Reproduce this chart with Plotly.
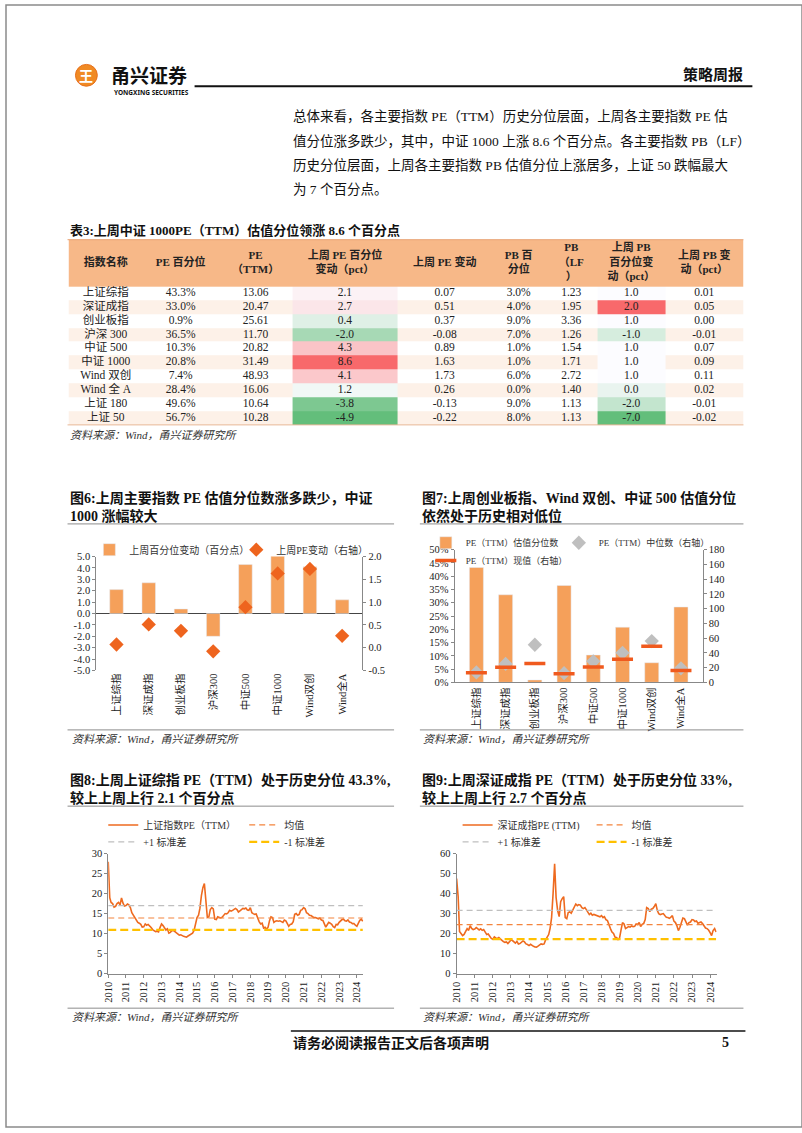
import plotly.graph_objects as go
import pandas as pd

W, H = 802, 1133
def px(x): return x / W
def py(y): return 1 - y / H

SERIF = "Liberation Serif, Noto Sans CJK SC, serif"

# ---------------- data ----------------
CATS = ["上证综指", "深证成指", "创业板指", "沪深300", "中证500", "中证1000", "Wind双创", "Wind全A"]
PCT_CHG = [2.1, 2.7, 0.4, -2.0, 4.3, 8.6, 4.1, 1.2]
PE_CHG = [0.07, 0.51, 0.37, -0.08, 0.89, 1.63, 1.73, 0.26]
PE_PCT = [43.3, 33.0, 0.9, 36.5, 10.3, 20.8, 7.4, 28.4]
PE_MEDIAN = [13.5, 25.0, 51.0, 12.5, 28.5, 40.0, 56.0, 19.0]
PE_NOW = [13.06, 20.47, 25.61, 11.70, 20.82, 31.49, 48.93, 16.06]

T_HEADERS = ["指数名称", "PE 百分位", "PE<br>（TTM）", "上周 PE 百分位<br>变动（pct）", "上周 PE 变动",
             "PB 百<br>分位", "PB<br>（LF<br>）", "上周 PB<br>百分位变<br>动（pct）", "上周 PB 变<br>动（pct）"]
T_NAMES = ["上证综指", "深证成指", "创业板指", "沪深 300", "中证 500", "中证 1000", "Wind 双创", "Wind 全 A", "上证 180", "上证 50"]
T_PE_PCT = [43.3, 33.0, 0.9, 36.5, 10.3, 20.8, 7.4, 28.4, 49.6, 56.7]
T_PE = [13.06, 20.47, 25.61, 11.70, 20.82, 31.49, 48.93, 16.06, 10.64, 10.28]
T_PE_PCT_CHG = [2.1, 2.7, 0.4, -2.0, 4.3, 8.6, 4.1, 1.2, -3.8, -4.9]
T_PE_CHG = [0.07, 0.51, 0.37, -0.08, 0.89, 1.63, 1.73, 0.26, -0.13, -0.22]
T_PB_PCT = [3.0, 4.0, 9.0, 7.0, 1.0, 1.0, 6.0, 0.0, 9.0, 8.0]
T_PB = [1.23, 1.95, 3.36, 1.26, 1.54, 1.71, 2.72, 1.40, 1.13, 1.13]
T_PB_PCT_CHG = [1.0, 2.0, 1.0, -1.0, 1.0, 1.0, 1.0, 0.0, -2.0, -7.0]
T_PB_CHG = [0.01, 0.05, 0.00, -0.01, 0.07, 0.09, 0.11, 0.02, -0.01, -0.02]

# monthly PE(TTM), Jan 2010 .. May 2024
SH_PE = [
    28.0, 19.0, 17.8, 17.5, 16.6, 16.8, 17.5, 17.8, 17.2, 18.9, 17.6, 16.9,
    17.0, 17.4, 17.2, 16.5, 15.2, 14.6, 14.2, 13.6, 12.8, 12.6, 12.3, 11.6,
    11.7, 12.4, 12.1, 12.3, 12.0, 11.5, 11.0, 10.7, 10.5, 10.6, 10.4, 11.5,
    12.4, 12.0, 11.3, 10.9, 11.2, 10.1, 10.3, 10.7, 10.8, 10.5, 10.4, 9.9,
    9.6, 9.7, 9.4, 9.3, 9.2, 9.1, 9.4, 9.7, 10.0, 10.1, 10.8, 12.6,
    14.0, 14.6, 16.3, 19.5, 21.5, 22.5, 17.8, 14.0, 14.2, 16.0, 16.5, 16.2,
    13.6, 13.5, 14.2, 14.0, 13.9, 14.1, 14.6, 15.0, 14.9, 15.2, 15.8, 15.6,
    15.8, 16.1, 16.3, 16.0, 15.4, 15.7, 16.0, 16.3, 16.2, 16.4, 15.9, 15.8,
    16.5, 15.2, 15.0, 14.8, 14.9, 13.6, 13.0, 12.4, 12.6, 11.4, 11.6, 11.1,
    11.6, 13.3, 14.2, 14.0, 12.8, 13.1, 13.2, 13.1, 13.2, 13.0, 12.8, 13.4,
    13.2, 12.5, 11.8, 12.3, 12.4, 13.0, 14.8, 15.0, 14.6, 14.8, 15.8, 16.0,
    16.5, 16.2, 15.2, 15.0, 14.6, 14.5, 14.2, 14.0, 14.0, 13.8, 13.7, 13.9,
    13.4, 13.3, 12.4, 11.6, 12.2, 12.8, 12.6, 12.3, 11.7, 11.5, 12.3, 12.2,
    12.8, 13.2, 13.5, 13.6, 13.2, 13.1, 13.4, 12.9, 12.8, 12.5, 12.5, 12.1,
    11.8, 12.6, 13.3, 13.6, 13.1,
]
SH_MEAN, SH_UP, SH_DN = 13.9, 17.0, 10.9

SZ_PE = [
    47.5, 38.5, 21.0, 19.8, 19.0, 19.6, 21.2, 22.5, 21.6, 23.9, 22.6, 22.0,
    22.3, 23.0, 22.5, 21.8, 22.4, 21.6, 22.0, 20.8, 19.5, 19.8, 18.6, 17.6,
    17.2, 18.3, 17.8, 17.6, 18.0, 17.2, 16.5, 16.0, 15.6, 15.8, 15.0, 16.2,
    16.8, 16.5, 15.6, 15.2, 16.1, 14.8, 15.0, 15.6, 16.3, 15.8, 14.8, 14.5,
    14.0, 14.6, 14.0, 13.6, 13.3, 13.2, 13.7, 14.3, 14.8, 14.6, 14.8, 16.8,
    18.0, 19.5, 22.5, 28.0, 40.0, 55.0, 38.0, 31.5, 28.5, 36.0, 37.5, 38.5,
    28.0, 27.5, 30.5, 30.8, 30.2, 32.0, 33.5, 34.8, 34.0, 34.5, 34.2, 33.0,
    32.5, 33.0, 32.0, 30.5, 29.5, 30.2, 29.2, 29.6, 29.3, 28.8, 28.5, 28.4,
    29.0, 28.0, 28.5, 27.0, 26.5, 24.0, 22.5, 20.8, 20.0, 18.2, 18.0, 17.0,
    17.8, 22.0, 25.5, 24.8, 22.5, 23.0, 23.5, 23.2, 23.8, 23.5, 23.6, 24.8,
    24.5, 25.5, 23.5, 24.6, 25.0, 27.0, 33.0, 32.5, 31.0, 32.2, 32.5, 33.5,
    35.0, 31.5, 30.0, 29.5, 29.8, 30.0, 29.0, 28.2, 28.0, 27.6, 28.2, 29.0,
    26.2, 25.5, 24.0, 21.5, 23.0, 26.2, 27.8, 27.5, 26.0, 24.2, 25.5, 25.8,
    27.0, 26.8, 26.0, 26.3, 25.2, 25.4, 25.8, 25.0, 24.0, 22.8, 22.5, 21.8,
    20.5, 19.0, 21.5, 22.5, 20.8,
]
SZ_MEAN, SZ_UP, SZ_DN = 24.5, 31.6, 17.2

DATES_SH = pd.date_range("2010-01-01", periods=len(SH_PE), freq="MS")
DATES_SZ = pd.date_range("2010-01-01", periods=len(SZ_PE), freq="MS")

# ---------------- colours ----------------
BAR = "#F5A05A"
ORANGE_RED = "#EE641E"
GRAY_D = "#BFBFBF"
RED_DASH = "#F05A1E"
LINE = "#EE6A1F"
MEANC = "#F4843D"
YEL = "#FFC000"
HEAD = "#F7B888"
STRIPE = "#FDF1E8"

fig = go.Figure()

def leg(x, y, size=10):
    return dict(x=px(x), y=py(y), xanchor="left", yanchor="middle", orientation="h",
                bgcolor="rgba(0,0,0,0)", borderwidth=0, itemwidth=30,
                font=dict(family=SERIF, size=size, color="#333"))

# ---------------- chart 6 ----------------
fig.add_trace(go.Bar(x=CATS, y=PCT_CHG, width=0.42, marker_color=BAR,
                     name="上周百分位变动（百分点）", xaxis="x", yaxis="y", legend="legend"))
fig.add_trace(go.Scatter(x=CATS, y=PE_CHG, mode="markers",
                         marker=dict(symbol="diamond", size=11, color=ORANGE_RED),
                         name="上周PE变动（右轴）", xaxis="x", yaxis="y2", legend="legend2"))

# ---------------- chart 7 ----------------
fig.add_trace(go.Bar(x=CATS, y=PE_PCT, width=0.48, marker_color=BAR,
                     name="PE（TTM）估值分位数", xaxis="x2", yaxis="y3", legend="legend3"))
fig.add_trace(go.Scatter(x=CATS, y=PE_MEDIAN, mode="markers",
                         marker=dict(symbol="diamond", size=11, color=GRAY_D),
                         name="PE（TTM）中位数（右轴）", xaxis="x2", yaxis="y4", legend="legend4"))
fig.add_trace(go.Scatter(x=CATS, y=PE_NOW, mode="markers",
                         marker=dict(symbol="line-ew", size=15, line=dict(width=3.5, color=RED_DASH)),
                         name="PE（TTM）现值（右轴）", xaxis="x2", yaxis="y4", legend="legend5"))

# ---------------- chart 8 ----------------
def hline(dates, val, color, dash, width, name, xa, ya, lg):
    return go.Scatter(x=[dates[0], dates[-1]], y=[val, val], mode="lines",
                      line=dict(color=color, dash=dash, width=width),
                      name=name, xaxis=xa, yaxis=ya, legend=lg)

fig.add_trace(go.Scatter(x=DATES_SH, y=SH_PE, mode="lines", line=dict(color=LINE, width=1.6),
                         name="上证指数PE（TTM）", xaxis="x3", yaxis="y5", legend="legend6"))
fig.add_trace(hline(DATES_SH, SH_MEAN, MEANC, "6px,4px", 1.2, "均值", "x3", "y5", "legend7"))
fig.add_trace(hline(DATES_SH, SH_UP, GRAY_D, "6px,4px", 1.2, "+1 标准差", "x3", "y5", "legend8"))
fig.add_trace(hline(DATES_SH, SH_DN, YEL, "8px,4px", 2.2, "-1 标准差", "x3", "y5", "legend9"))

# ---------------- chart 9 ----------------
fig.add_trace(go.Scatter(x=DATES_SZ, y=SZ_PE, mode="lines", line=dict(color=LINE, width=1.6),
                         name="深证成指PE (TTM)", xaxis="x4", yaxis="y6", legend="legend10"))
fig.add_trace(hline(DATES_SZ, SZ_MEAN, MEANC, "6px,4px", 1.2, "均值", "x4", "y6", "legend11"))
fig.add_trace(hline(DATES_SZ, SZ_UP, GRAY_D, "6px,4px", 1.2, "+1 标准差", "x4", "y6", "legend12"))
fig.add_trace(hline(DATES_SZ, SZ_DN, YEL, "8px,4px", 2.2, "-1 标准差", "x4", "y6", "legend13"))

# ---------------- table ----------------
COL_EDGES = [63, 138, 214, 289, 394, 490, 543, 596, 664, 743]
COL_CENTERS = [(a + b) / 2 for a, b in zip(COL_EDGES[:-1], COL_EDGES[1:])]
NROW = len(T_NAMES)
ROW_EDGES = [i - 0.5 for i in range(NROW + 1)]
HEAD_TOP = -3.857

def excel_scale(vals):
    s = sorted(vals)
    n = len(s)
    med = (s[(n - 1) // 2] + s[n // 2]) / 2
    lo, hi = s[0], s[-1]
    out = []
    for v in vals:
        if v >= med:
            out.append((v - med) / (hi - med) if hi > med else 0)
        else:
            out.append(-(med - v) / (med - lo) if med > lo else 0)
    return out

columns_txt = [
    T_NAMES,
    [f"{v:.1f}%" for v in T_PE_PCT],
    [f"{v:.2f}" for v in T_PE],
    [f"{v:.1f}" for v in T_PE_PCT_CHG],
    [f"{v:.2f}" for v in T_PE_CHG],
    [f"{v:.1f}%" for v in T_PB_PCT],
    [f"{v:.2f}" for v in T_PB],
    [f"{v:.1f}" for v in T_PB_PCT_CHG],
    [f"{v:.2f}" for v in T_PB_CHG],
]

# striped background
fig.add_trace(go.Heatmap(x=COL_EDGES, y=ROW_EDGES,
                         z=[[i % 2 for _ in range(9)] for i in range(NROW)],
                         colorscale=[[0, "#FFFFFF"], [1, STRIPE]], zmin=0, zmax=1,
                         showscale=False, hoverinfo="skip", xaxis="x5", yaxis="y7"))
# colour-scaled cells
pe_t = excel_scale(T_PE_PCT_CHG)
pb_t = excel_scale(T_PB_PCT_CHG)
zc = []
for i in range(NROW):
    row = [None] * 9
    row[3] = pe_t[i]
    row[7] = pb_t[i]
    zc.append(row)
fig.add_trace(go.Heatmap(x=COL_EDGES, y=ROW_EDGES, z=zc,
                         colorscale=[[0, "#63BE7B"], [0.5, "#FCFCFF"], [1, "#F8696B"]],
                         zmin=-1, zmax=1, showscale=False, hoverinfo="skip",
                         xaxis="x5", yaxis="y7"))
# header band
fig.add_trace(go.Heatmap(x=[COL_EDGES[0], COL_EDGES[-1]], y=[HEAD_TOP, -0.5], z=[[0]],
                         colorscale=[[0, HEAD], [1, HEAD]], showscale=False,
                         hoverinfo="skip", xaxis="x5", yaxis="y7"))
# cell text
tx, ty, tt = [], [], []
for j, col in enumerate(columns_txt):
    for i, t in enumerate(col):
        tx.append(COL_CENTERS[j]); ty.append(i); tt.append(t)
fig.add_trace(go.Scatter(x=tx, y=ty, text=tt, mode="text", textposition="middle center",
                         textfont=dict(family=SERIF, size=11.5, color="#222"),
                         hoverinfo="skip", showlegend=False, xaxis="x5", yaxis="y7"))
fig.add_trace(go.Scatter(x=COL_CENTERS, y=[(HEAD_TOP - 0.5) / 2] * 9,
                         text=[f"<b>{h}</b>" for h in T_HEADERS], mode="text",
                         textposition="middle center",
                         textfont=dict(family=SERIF, size=11, color="#222"),
                         hoverinfo="skip", showlegend=False, xaxis="x5", yaxis="y7"))

# ---------------- layout ----------------
def numticks(vals, fmt):
    return dict(tickmode="array", tickvals=vals, ticktext=[format(v, fmt) for v in vals])

tickf = dict(family=SERIF, size=10.5, color="#222")
common_y = dict(showgrid=False, showline=True, linecolor="#888", linewidth=1,
                ticks="outside", ticklen=3, tickcolor="#888", tickfont=tickf)

L6 = [-5, -4, -3, -2, -1, 0, 1, 2, 3, 4, 5]
R6 = [-0.5, 0, 0.5, 1.0, 1.5, 2.0]

fig.update_layout(
    width=W, height=H, margin=dict(l=0, r=0, t=0, b=0),
    paper_bgcolor="white", plot_bgcolor="white", showlegend=True,
    xaxis=dict(domain=[px(91), px(359)], anchor="y", type="category", tickangle=-90,
               tickfont=tickf, showline=False, showgrid=False, ticks=""),
    yaxis=dict(domain=[py(672), py(557)], anchor="x", range=[-5, 5], zeroline=True,
               zerolinecolor="#444", zerolinewidth=1, **numticks(L6, ".1f"), **common_y),
    yaxis2=dict(overlaying="y", anchor="x", side="right", range=[-0.5, 2.0], zeroline=False,
                **numticks(R6, ".1f"), **common_y),
    xaxis2=dict(domain=[px(452), px(702)], anchor="y3", type="category", tickangle=-90,
                tickfont=tickf, showline=True, linecolor="#888", showgrid=False, ticks=""),
    yaxis3=dict(domain=[py(684), py(550)], anchor="x2", range=[0, 50], dtick=5,
                ticksuffix="%", zeroline=False, **common_y),
    yaxis4=dict(overlaying="y3", anchor="x2", side="right", range=[0, 180], dtick=20,
                zeroline=False, **common_y),
    xaxis3=dict(domain=[px(103), px(360)], anchor="y5", type="date",
                range=["2010-01-01", "2024-05-12"], dtick="M12", tick0="2010-01-01",
                tickformat="%Y", tickangle=-90, tickfont=tickf, showline=True, linecolor="#888",
                ticks="outside", ticklen=3, tickcolor="#888", showgrid=False),
    yaxis5=dict(domain=[py(978), py(857)], anchor="x3", range=[0, 30], dtick=5,
                zeroline=False, **common_y),
    xaxis4=dict(domain=[px(454), px(716)], anchor="y6", type="date",
                range=["2010-01-01", "2024-05-12"], dtick="M12", tick0="2010-01-01",
                tickformat="%Y", tickangle=-90, tickfont=tickf, showline=True, linecolor="#888",
                ticks="outside", ticklen=3, tickcolor="#888", showgrid=False),
    yaxis6=dict(domain=[py(978), py(857)], anchor="x4", range=[0, 60], dtick=10,
                zeroline=False, **common_y),
    xaxis5=dict(domain=[px(COL_EDGES[0]), px(COL_EDGES[-1])], anchor="y7",
                range=[COL_EDGES[0], COL_EDGES[-1]], visible=False, fixedrange=True),
    yaxis7=dict(domain=[py(424), py(237)], anchor="x5", range=[NROW - 0.5, HEAD_TOP],
                visible=False, fixedrange=True),
    legend=leg(84, 550), legend2=leg(232, 550),
    legend3=leg(423, 543, 9), legend4=leg(557, 543, 9), legend5=leg(423, 561, 9),
    legend6=leg(98, 828), legend7=leg(240, 828), legend8=leg(98, 845), legend9=leg(240, 845),
    legend10=leg(455, 828), legend11=leg(590, 828), legend12=leg(455, 845), legend13=leg(590, 845),
)

# ---------------- text & decorations ----------------
ann = []
def A(text, x, y, size, xanchor="left", color="#111", family=SERIF):
    ann.append(dict(text=text, x=px(x), y=py(y), xref="paper", yref="paper",
                    xanchor=xanchor, yanchor="middle", showarrow=False,
                    font=dict(family=family, size=size, color=color)))

# header
A("<b>王</b>", 81, 71, 14, xanchor="center", color="white", family="Noto Sans CJK SC")
A("<b>甬兴证券</b>", 104, 70, 19, family="Noto Sans CJK SC")
A("<b>YONGXING SECURITIES</b>", 107, 88, 6.5, family="Noto Sans")
A("<b>策略周报</b>", 745, 70, 15, xanchor="right")

# paragraph
PARA = ["总体来看，各主要指数 PE（TTM）历史分位层面，上周各主要指数 PE 估",
        "值分位涨多跌少，其中，中证 1000 上涨 8.6 个百分点。各主要指数 PB（LF）",
        "历史分位层面，上周各主要指数 PB 估值分位上涨居多，上证 50 跌幅最大",
        "为 7 个百分点。"]
for k, line in enumerate(PARA):
    A(line, 287, 113 + k * 24.4, 13.5, color="#111")

A("<b>表3:上周中证 1000PE（TTM）估值分位领涨 8.6 个百分点</b>", 62, 228, 13)
SRC = "<i>资料来源：Wind，甬兴证券研究所</i>"
A(SRC, 62, 434, 11, color="#333")

A("<b>图6:上周主要指数 PE 估值分位数涨多跌少，中证</b>", 62, 498, 14)
A("<b>1000 涨幅较大</b>", 62, 516, 14)
A("<b>图7:上周创业板指、Wind 双创、中证 500 估值分位</b>", 417, 498, 14)
A("<b>依然处于历史相对低位</b>", 417, 516, 14)
A(SRC, 64, 741, 11, color="#333")
A(SRC, 418, 741, 11, color="#333")

A("<b>图8:上周上证综指 PE（TTM）处于历史分位 43.3%,</b>", 62, 783, 14)
A("<b>较上上周上行 2.1 个百分点</b>", 62, 801, 14)
A("<b>图9:上周深证成指 PE（TTM）处于历史分位 33%,</b>", 417, 783, 14)
A("<b>较上上周上行 2.7 个百分点</b>", 417, 801, 14)
A(SRC, 64, 1022, 11, color="#333")
A(SRC, 418, 1022, 11, color="#333")

A("<b>请务必阅读报告正文后各项声明</b>", 287, 1048, 14)
A("<b>5</b>", 719, 1048, 14)

fig.update_layout(annotations=ann)

shapes = []
def HL(x0, x1, y, color, width):
    shapes.append(dict(type="line", xref="paper", yref="paper", x0=px(x0), x1=px(x1),
                       y0=py(y), y1=py(y), line=dict(color=color, width=width)))
shapes.append(dict(type="circle", xref="paper", yref="paper", x0=px(70), x1=px(92),
                   y0=py(82), y1=py(60), fillcolor="#F08A24", line=dict(color="#E8701A", width=1)))
HL(190, 752, 82, "#111", 2)
HL(62, 743, 237, "#E8A070", 1)
HL(62, 743, 424, "#E8B898", 1)
HL(62, 391, 524, "#8C8C8C", 1)
HL(417, 743, 524, "#8C8C8C", 1)
HL(62, 391, 732, "#8C8C8C", 1)
HL(417, 743, 732, "#8C8C8C", 1)
HL(62, 391, 809, "#8C8C8C", 1)
HL(417, 743, 809, "#8C8C8C", 1)
HL(62, 391, 1013, "#8C8C8C", 1)
HL(417, 743, 1013, "#8C8C8C", 1)
HL(287, 745, 1036, "#111", 1.5)
shapes.append(dict(type="rect", xref="paper", yref="paper", x0=0, x1=1, y0=0, y1=1,
                   line=dict(color="#8A8A8A", width=1.5)))
fig.update_layout(shapes=shapes)

fig.write_html("out.html")
